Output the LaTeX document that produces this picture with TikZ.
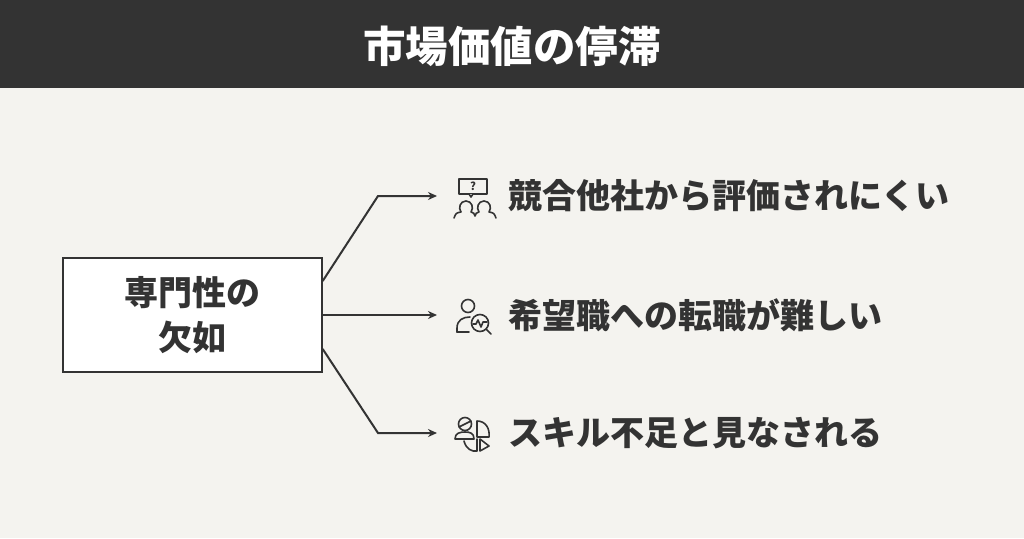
\documentclass[tikz,border=0pt]{standalone}
\usepackage{fontspec}
\setmainfont{Noto Sans CJK JP}
\usetikzlibrary{positioning,arrows.meta}
\definecolor{headbg}{HTML}{333333}
\definecolor{pagebg}{HTML}{F4F3EF}
\definecolor{ink}{HTML}{333333}
\tikzset{
  item/.style={anchor=west,font=\fontsize{34}{38}\selectfont\bfseries,text=ink,inner sep=0pt},
  link/.style={draw=ink,line width=2pt,-{Stealth[length=9pt,width=8pt]}},
  icon/.style={draw=ink,line width=1.6pt,line cap=round,line join=round}
}
\begin{document}
\begin{tikzpicture}[x=1pt,y=-1pt]
\fill[pagebg] (0,0) rectangle (1024,538);
\fill[headbg] (0,0) rectangle (1024,88);
\node (title) at (512,46) {\color{white}\fontsize{42.5}{46}\selectfont\bfseries 市場価値の停滞};
% cause box
\node[draw=ink,line width=1.4pt,fill=white,minimum width=259pt,minimum height=114pt,
  align=center,font=\fontsize{34}{45}\selectfont\bfseries,text=ink] (cause) at (192.5,315) {専門性の\\欠如};
% effects
\node[item] (e1) at (508,196) {競合他社から評価されにくい};
\node[item] (e2) at (508,315) {希望職への転職が難しい};
\node[item] (e3) at (508,433) {スキル不足と見なされる};
\coordinate (a1) at (437,196);
\coordinate (a2) at (437,315);
\coordinate (a3) at (437,433);
\coordinate (k1) at (378,196);
\coordinate (k3) at (378,433);
\draw[link] ([yshift=34pt]cause.east) -- (k1) -- (a1);
\draw[link] (cause.east) -- (a2);
\draw[link] ([yshift=-34pt]cause.east) -- (k3) -- (a3);
% icon 1: people with question
\begin{scope}[shift={(474,198)}]
  \draw[icon] (-15,-19) rectangle (13,-4);
  \draw[icon,fill=pagebg] (-5,-4) -- (-3,-1) -- (-1,-4);
  \node[font=\fontsize{11}{11}\selectfont\bfseries,text=ink] at (-1,-11.5) {?};
  \draw[icon] (-20,20) .. controls (-18,15) .. (-13,14) .. controls (-16,10) and (-14,3) .. (-8,3)
     .. controls (-2,3) and (0,10) .. (-3,14) .. controls (0,15) .. (1,18) .. controls (2,15) .. (5,14)
     .. controls (2,10) and (4,3) .. (10,3) .. controls (16,3) and (18,10) .. (15,14) .. controls (20,15) .. (22,20);
\end{scope}
% icon 2: person with magnifier
\begin{scope}[shift={(474,315)}]
  \draw[icon] (-6,-9) circle (6.5);
  \draw[icon] (-17,17) -- (-17,13) .. controls (-17,5) and (-11,2) .. (-4,2);
  \draw[icon] (-17,17) -- (-5,17);
  \draw[icon] (6,8) circle (8.5);
  \draw[icon] (-1,9) -- (2,9) -- (4,5) -- (7,12) -- (9,7) -- (13,7);
  \draw[icon] (12,14) -- (17,19);
\end{scope}
% icon 3: person with pie chart
\begin{scope}[shift={(474,433)}]
  \draw[icon] (-9,-9) circle (6.5);
  \draw[icon] (-15,-6) -- (-3,-12);
  \draw[icon] (-19,6) .. controls (-19,0) and (-14,-1) .. (-9,-1) .. controls (-4,-1) and (0,0) .. (0,6) -- cycle;
  \draw[icon] (3,-12) .. controls (12,-12) and (16,-4) .. (15,4) -- (3,4) -- cycle;
  \draw[icon] (-10,8) .. controls (-8,16) and (-2,19) .. (3,18) -- (3,6);
  \draw[icon] (6,6) -- (6,18) -- (15,13) -- cycle;
\end{scope}
\end{tikzpicture}
\end{document}
